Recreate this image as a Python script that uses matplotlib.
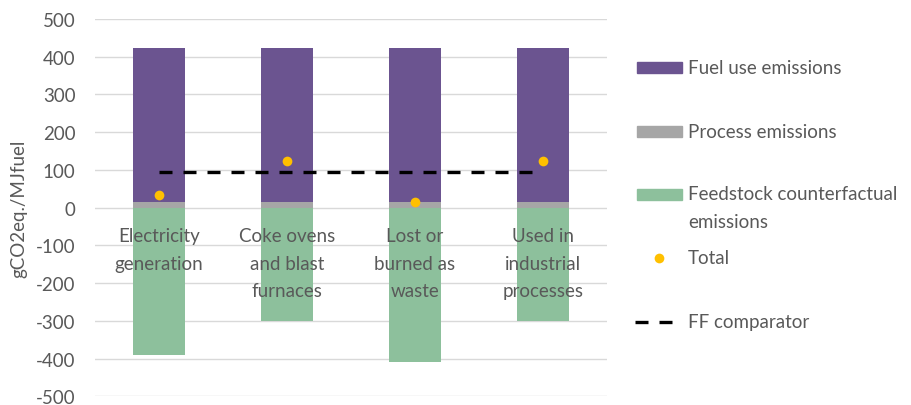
import matplotlib.pyplot as plt
from matplotlib.patches import Rectangle
from matplotlib.lines import Line2D
import numpy as np

# values (gCO2eq./MJfuel)
categories = ["Electricity\ngeneration", "Coke ovens\nand blast\nfurnaces",
              "Lost or\nburned as\nwaste", "Used in\nindustrial\nprocesses"]
process_emissions = [15, 15, 15, 15]
fuel_use_emissions = [408, 408, 408, 408]
feedstock_counterfactual = [-390, -300, -409, -300]
total = [33, 123, 14, 123]
ff_comparator = [94, 94, 94, 94]

PURPLE = "#6b5490"
GREY = "#a6a6a6"
GREEN = "#8dc09c"
ORANGE = "#ffc000"
TEXT = "#595959"
FONT = "Lato"
FS = 13.5

W, H = 912, 406
plt.rcParams['font.family'] = [FONT, 'DejaVu Sans']
plt.rcParams['axes.unicode_minus'] = False
fig = plt.figure(figsize=(W / 100, H / 100), dpi=100)
ax = fig.add_axes([95 / W, 1 - 397.3 / H, 512 / W, (397.3 - 20) / H])

x = np.arange(len(categories))
bw = 0.4
ax.bar(x, process_emissions, bw, color=GREY, zorder=2)
ax.bar(x, fuel_use_emissions, bw, bottom=process_emissions, color=PURPLE, zorder=2)
ax.bar(x, feedstock_counterfactual, bw, color=GREEN, zorder=2)
ax.plot(x, ff_comparator, color="black", lw=2.4, dashes=(3.9, 3.3), zorder=3)
ax.scatter(x, total, s=49, color=ORANGE, zorder=4, linewidths=0)

for xi, lab in zip(x, categories):
    ax.text(xi, -52, lab, ha="center", va="top", fontsize=FS, color=TEXT,
            linespacing=1.75, zorder=5)

ax.set_xlim(-0.5, 3.5)
ax.set_ylim(-500, 500)
ax.set_yticks(np.arange(-500, 501, 100))
ax.set_xticks([])
ax.tick_params(axis="y", length=0, pad=14, labelsize=FS, labelcolor=TEXT)
ax.grid(axis="y", color="#d9d9d9", lw=1, zorder=0)
for s in ax.spines.values():
    s.set_visible(False)
ax.set_ylabel("gCO2eq./MJfuel", fontsize=FS, color=TEXT)
ax.yaxis.set_label_coords(-68 / 512, 0.5)


# legend drawn by hand so handles line up with the first text line
def px(xp, yp):
    return xp / W, 1 - yp / H


legend_rows = [
    ("patch", PURPLE, "Fuel use emissions", 68),
    ("patch", GREY, "Process emissions", 132),
    ("patch", GREEN, "Feedstock counterfactual\nemissions", 195),
    ("dot", ORANGE, "Total", 259),
    ("dash", "black", "FF comparator", 323),
]
for kind, col, lab, yc in legend_rows:
    if kind == "patch":
        x0, y0 = px(637, yc + 5.5)
        fig.add_artist(Rectangle((x0, y0), 45 / W, 11 / H, color=col,
                                 transform=fig.transFigure))
    elif kind == "dot":
        fig.add_artist(Line2D([px(659, yc)[0]], [px(659, yc)[1]], marker="o",
                              ms=7, color=col, mew=0, transform=fig.transFigure))
    else:
        fig.add_artist(Line2D([px(635, yc)[0], px(673, yc)[0]],
                              [px(635, yc)[1]] * 2, color=col, lw=2.4,
                              dashes=(3.9, 3.3), transform=fig.transFigure))
    nlines = lab.count("\n")
    tx, ty = px(688, yc + nlines * 13.5)
    fig.text(tx, ty, lab, ha="left", va="center", fontsize=FS, color=TEXT,
             linespacing=1.75)

fig.savefig("out.png", dpi=100)
